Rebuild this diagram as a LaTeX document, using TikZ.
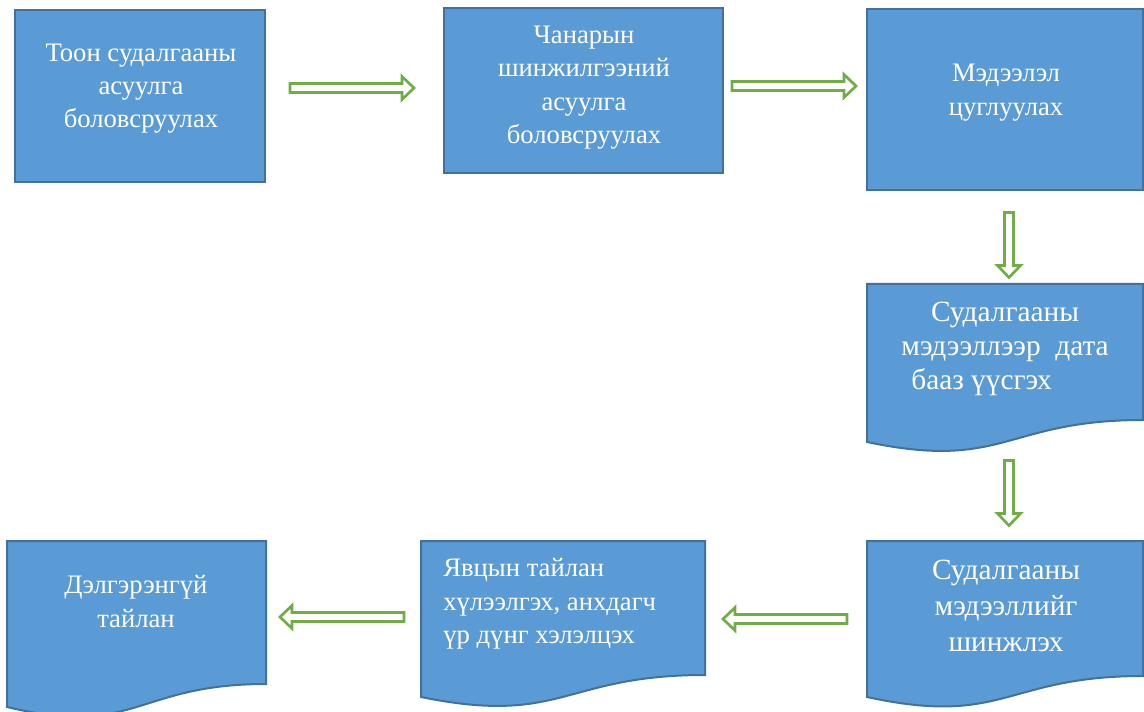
\documentclass[tikz,border=0pt]{standalone}
\usepackage{fontspec}
\setmainfont{Liberation Serif}
\usepackage{tikz}

\definecolor{boxfill}{HTML}{5B9BD5}
\definecolor{boxedge}{HTML}{41719C}
\definecolor{arrowgreen}{HTML}{70AD47}

\tikzset{
  boxline/.style={draw=boxedge, fill=boxfill, line width=1.5pt},
  boxtext/.style={text=white, align=center, inner sep=0pt, font=\fontsize{20}{25}\selectfont},
  bigtext/.style={boxtext, font=\fontsize{22}{25.5}\selectfont},
  pics/hollowarrow/.style={code={
    \draw[draw=arrowgreen, fill=white, line width=2pt, line join=miter]
      ({-#1/2},-4.5) -- ({#1/2-12},-4.5) -- ({#1/2-12},-11.5) -- ({#1/2},0)
      -- ({#1/2-12},11.5) -- ({#1/2-12},4.5) -- ({-#1/2},4.5) -- cycle;
  }}
}

\begin{document}
\begin{tikzpicture}[x=0.75pt, y=-0.75pt]
\useasboundingbox (0,0) rectangle (1144,712);

% top row
\draw[boxline] (15,10) rectangle (265,182);
\draw[boxline] (444,8) rectangle (723,173);
\draw[boxline] (867,9) rectangle (1143,190);

% document shapes
\draw[boxline] (867,284) -- (1143,284) -- (1143,420) .. controls (1005,420) and (1005,471) .. (867,442) -- cycle;
\draw[boxline] (867,541) -- (1143,541) -- (1143,676) .. controls (1005,676) and (1005,727) .. (867,697) -- cycle;
\draw[boxline] (421,541) -- (705,541) -- (705,675) .. controls (563,675) and (563,726) .. (421,697) -- cycle;
\draw[boxline] (7,541) -- (266,541) -- (266,684) .. controls (136,684) and (136,738) .. (7,707) -- cycle;

% texts
\node[boxtext] (t1) at (141,88.7) {Тоон судалгааны\\асуулга\\боловсруулах};
\node[boxtext] (t2) at (584,87.7) {Чанарын\\шинжилгээний\\асуулга\\боловсруулах};
\node[boxtext] (t3) at (1006,92.5) {Мэдээлэл\\цуглуулах};
\node[bigtext] (t4) at (1005,349) {Судалгааны\\мэдээллээр~ дата\\бааз үүсгэх\hspace*{1.6em}};
\node[bigtext, font=\fontsize{22}{27}\selectfont] (t5) at (1006,606) {Судалгааны\\мэдээллийг\\шинжлэх};
\node[boxtext, align=left, anchor=west] (t6) at (443,604) {Явцын тайлан\\хүлээлгэх, анхдагч\\үр дүнг хэлэлцэх};
\node[boxtext, font=\fontsize{20}{26}\selectfont] (t7) at (136,601.5) {Дэлгэрэнгүй\\тайлан};

% arrows
\pic at (352,88) {hollowarrow=124};
\pic at (794,86) {hollowarrow=124};
\pic[rotate=-90] at (1009,245) {hollowarrow=65};
\pic[rotate=-90] at (1009,493) {hollowarrow=65};
\pic[rotate=180] at (785,619) {hollowarrow=124};
\pic[rotate=180] at (342,617) {hollowarrow=124};
\end{tikzpicture}
\end{document}
